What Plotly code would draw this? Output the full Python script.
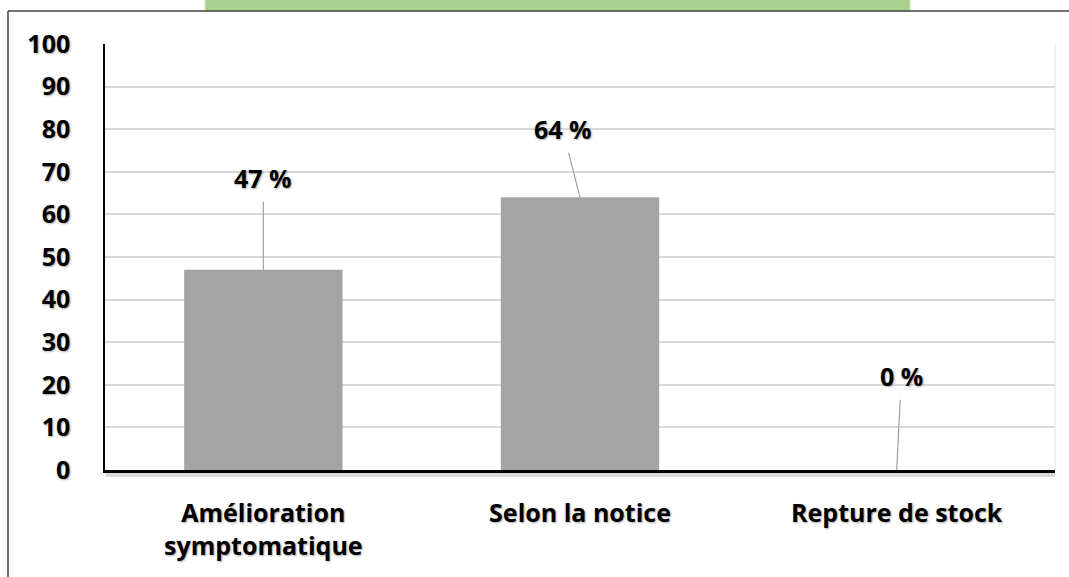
import plotly.graph_objects as go

categories = ["Amélioration<br>symptomatique", "Selon la notice", "Repture de stock"]
values = [47, 64, 0]
value_labels = ["47 %", "64 %", "0 %"]
label_x_offset = [0.0, -0.055, 0.015]
label_y = [68.5, 80, 22]
y_ticks = [0, 10, 20, 30, 40, 50, 60, 70, 80, 90, 100]

W, H = 1069, 577
L, R, T, B = 105, 14, 44, 107
PW, PH = W - L - R, H - T - B


def px_x(x):
    return (x - L) / PW


def px_y(y):
    return (H - B - y) / PH


FONT = "Open Sans, Roboto, sans-serif"
SHADOW = "1px 1px 2px rgba(0,0,0,0.35)"

xs = list(range(len(categories)))

fig = go.Figure()
fig.add_trace(go.Bar(
    x=xs, y=values,
    marker=dict(color="#a4a4a4", line=dict(width=0)),
    width=0.5,
    hoverinfo="skip",
))

annotations = []
for i, (v, t) in enumerate(zip(values, value_labels)):
    annotations.append(dict(
        x=i, y=v, xref="x", yref="y",
        ax=i + label_x_offset[i], ay=label_y[i], axref="x", ayref="y",
        text=f"<b>{t}</b>", showarrow=True, arrowhead=0, arrowwidth=1.2,
        arrowcolor="#a0a0a0", standoff=0, startstandoff=0,
        font=dict(family=FONT, size=25, color="#000000", shadow=SHADOW),
        borderpad=6,
    ))

shapes = [
    # green header strip
    dict(type="rect", xref="paper", yref="paper",
         x0=px_x(205), x1=px_x(910), y0=px_y(11), y1=px_y(-2),
         fillcolor="#a9d18e", line=dict(color="#d5e8c8", width=1), layer="below"),
    # outer frame
    dict(type="line", xref="paper", yref="paper",
         x0=px_x(8), x1=px_x(1070), y0=px_y(11), y1=px_y(11),
         line=dict(color="#404040", width=1.5)),
    dict(type="line", xref="paper", yref="paper",
         x0=px_x(8), x1=px_x(8), y0=px_y(11), y1=px_y(578),
         line=dict(color="#404040", width=1.5)),
    # shadow under the x axis
    dict(type="rect", xref="paper", yref="paper",
         x0=px_x(106), x1=px_x(1055), y0=px_y(477), y1=px_y(471),
         fillcolor="rgba(0,0,0,0.15)", line=dict(width=0), layer="below"),
    # right light border of plot area
    dict(type="line", xref="paper", yref="paper",
         x0=1, x1=1, y0=0, y1=1, line=dict(color="#e0e0e0", width=1)),
]

fig.update_layout(
    width=W, height=H,
    margin=dict(l=L, r=R, t=T, b=B),
    paper_bgcolor="#ffffff", plot_bgcolor="#ffffff",
    showlegend=False,
    bargap=0.5,
    annotations=annotations,
    shapes=shapes,
    xaxis=dict(
        tickmode="array", tickvals=xs, ticktext=[f"<b>{c}</b>" for c in categories],
        range=[-0.5, 2.5], showgrid=False, zeroline=False,
        showline=True, linecolor="#000000", linewidth=3,
        ticks="", ticklabelstandoff=19,
        tickfont=dict(family=FONT, size=25, color="#000000", shadow=SHADOW),
    ),
    yaxis=dict(
        range=[0, 100], tickmode="array", tickvals=y_ticks,
        ticktext=[f"<b>{t}</b>" for t in y_ticks],
        showgrid=True, gridcolor="#d9d9d9", gridwidth=1.5,
        zeroline=False, showline=True, linecolor="#000000", linewidth=1.5,
        ticks="", ticklabelstandoff=28,
        tickfont=dict(family=FONT, size=25, color="#000000", shadow=SHADOW),
    ),
)

fig.write_html(
    "out.html",
    config={"displayModeBar": False},
    post_script="document.body.style.margin='0px';document.body.style.overflow='hidden';",
)
